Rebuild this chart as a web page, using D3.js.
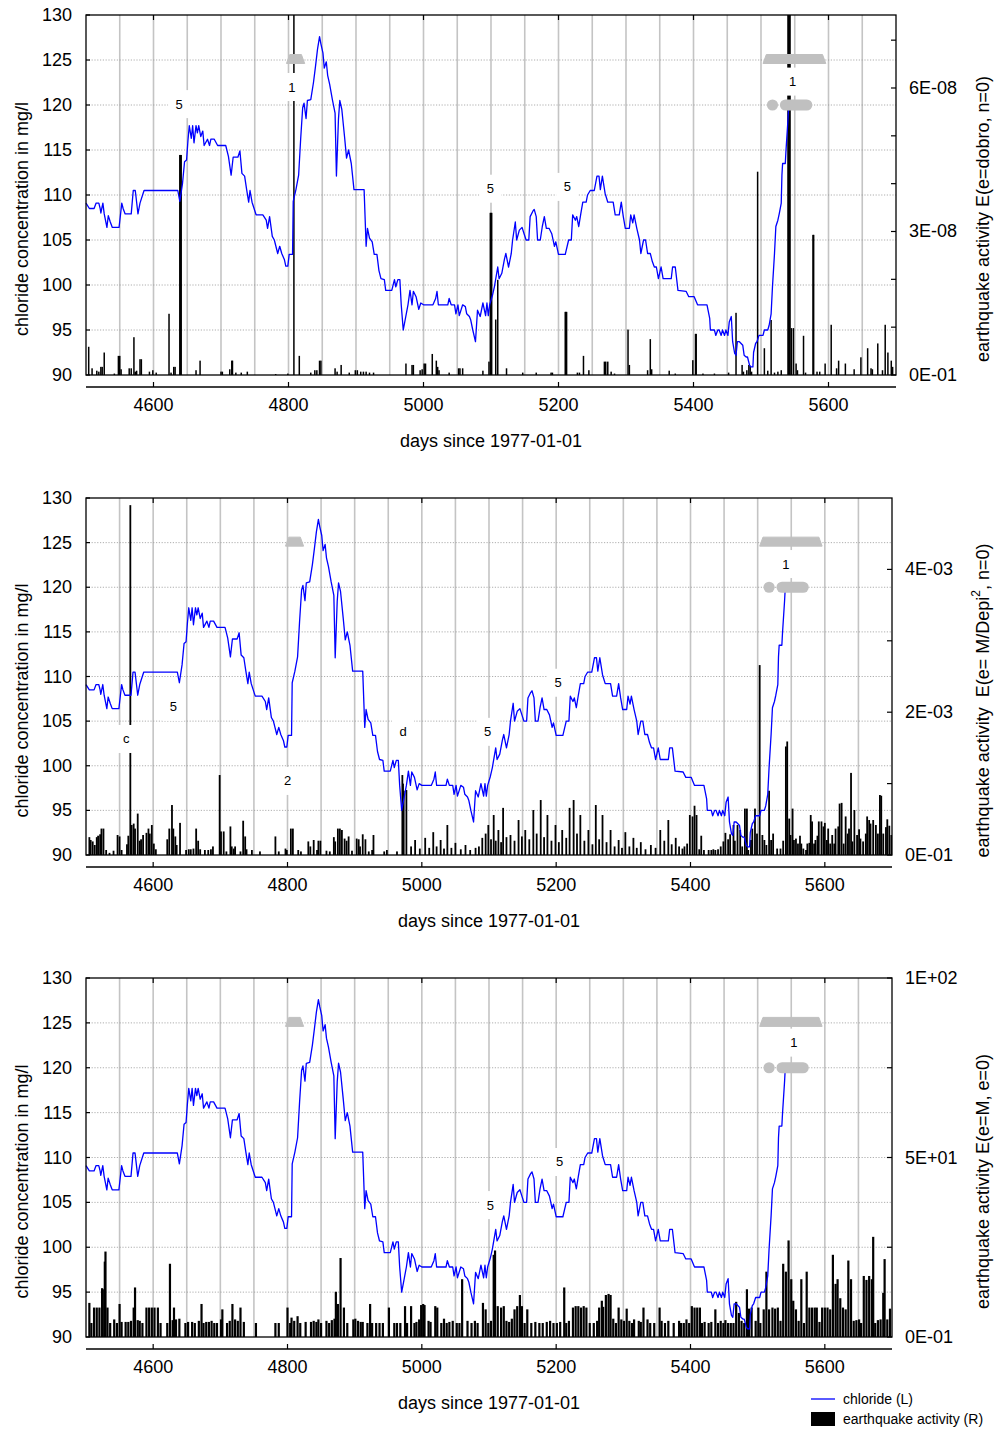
<!DOCTYPE html>
<html>
<head>
<meta charset="utf-8">
<script src="https://cdn.jsdelivr.net/npm/d3@7"></script>
<style>
  body { margin: 0; background: #fff; }
  text { font-family: "Liberation Sans", Arial, Helvetica, sans-serif; fill: #000; }
</style>
</head>
<body>
<svg id="chart" width="1005" height="1430"></svg>
<script>
// ---- chloride concentration (mg/l), days since 1977-01-01 ----
const chlorideDays = [
  4500,4505,4512,4515,4519,4521,4522,4525,4527,4531,4533,4536,4539,4549,4553,4555,4558,4567,4570,4573,
  4577,4580,4586,4636,4639,4643,4646,4649,4651,4653,4656,4658,4660,4663,4665,4667,4670,4673,4675,4680,
  4683,4685,4690,4695,4707,4711,4715,4718,4725,4728,4731,4735,4738,4741,4743,4746,4752,4762,4767,4769,
  4772,4776,4779,4784,4787,4790,4794,4796,4799,4801,4806,4807,4811,4815,4818,4821,4823,4826,4828,4833,
  4837,4840,4843,4846,4848,4851,4853,4856,4858,4861,4865,4869,4871,4874,4876,4879,4883,4886,4889,4893,
  4897,4912,4915,4917,4920,4924,4927,4931,4934,4937,4942,4944,4953,4957,4959,4962,4965,4967,4970,4974,
  4977,4980,4983,4985,4989,4993,4996,5000,5014,5018,5020,5022,5036,5038,5041,5046,5048,5051,5053,5058,
  5062,5064,5068,5070,5073,5077,5080,5084,5088,5092,5094,5096,5098,5102,5105,5110,5112,5116,5120,5122,
  5126,5130,5132,5136,5138,5142,5146,5149,5152,5156,5158,5162,5164,5167,5169,5173,5176,5179,5182,5186,
  5190,5194,5196,5200,5210,5215,5219,5221,5225,5227,5230,5233,5236,5241,5243,5247,5253,5257,5260,5262,
  5265,5269,5273,5281,5284,5290,5293,5296,5299,5305,5307,5310,5312,5316,5320,5322,5326,5329,5332,5336,
  5339,5342,5345,5348,5352,5355,5367,5369,5373,5377,5389,5393,5401,5406,5420,5424,5425,5431,5433,5436,
  5438,5441,5443,5446,5448,5451,5453,5456,5458,5461,5463,5465,5468,5473,5475,5478,5480,5483,5485,5488,
  5489,5492,5494,5497,5503,5505,5510,5512,5515,5517,5520,5522,5525,5527,5530,5531,5532,5536,5537,5540,
  5541
];
const chlorideValues = [
  109.1,108.5,108.5,109.1,109.1,108.5,108.0,109.1,107.9,106.4,107.7,107.0,106.4,106.4,109.1,108.5,107.9,107.9,110.5,110.5,
  107.9,109.1,110.5,110.5,109.3,111.3,113.7,113.9,116.0,117.7,116.3,117.7,115.8,117.7,116.9,117.7,116.5,117.1,115.5,116.2,
  115.5,116.2,116.2,115.5,115.5,114.3,112.2,114.2,114.2,114.9,112.4,112.1,110.6,109.2,110.5,109.2,107.8,107.8,107.2,106.3,
  107.6,105.4,105.0,103.5,104.3,103.5,102.8,102.1,102.1,103.4,103.4,109.3,110.6,112.2,116.2,119.7,120.2,118.5,120.5,120.6,
  122.5,124.3,126.2,127.6,126.8,125.8,124.1,124.8,123.3,122.3,120.6,119.1,112.1,118.4,120.5,119.5,116.5,114.1,115.0,113.5,
  110.6,110.6,104.3,106.3,105.2,104.8,103.4,103.4,101.6,100.7,100.6,99.4,99.4,100.6,99.8,100.6,100.6,97.8,95.0,96.6,
  97.8,99.4,97.8,99.3,98.7,97.3,98.0,97.8,97.8,98.5,99.3,97.8,97.8,98.5,97.8,97.8,96.8,97.8,96.6,97.8,
  97.6,96.8,96.5,96.1,95.0,93.7,97.2,96.5,98.0,96.6,98.0,96.6,97.8,98.8,99.8,102.0,100.7,101.3,102.9,103.5,
  102.0,103.5,105.0,107.0,105.0,106.1,106.4,105.7,105.0,105.0,107.6,108.2,108.4,107.6,105.0,105.0,106.5,107.6,106.3,106.3,
  105.7,104.3,104.8,103.4,103.4,105.0,105.0,107.8,107.2,107.6,106.5,107.9,109.2,109.2,110.0,110.5,110.5,112.1,112.1,110.6,
  112.1,110.2,109.2,109.2,107.8,107.8,109.2,107.6,106.3,106.3,107.8,106.9,107.8,106.3,105.0,103.5,105.0,105.0,103.5,103.5,
  102.6,102.0,102.0,100.7,102.0,100.7,100.7,102.0,102.0,99.4,99.3,98.7,98.7,97.8,97.8,96.3,95.0,95.0,94.4,95.0,
  95.0,94.4,95.0,94.4,95.0,94.4,95.9,96.5,93.7,92.4,92.2,93.7,93.7,93.3,92.2,92.0,92.0,91.1,90.9,90.9,
  92.5,93.5,93.7,94.4,94.4,95.0,95.0,95.5,96.8,99.8,103.5,106.5,107.2,107.9,109.1,112.2,113.5,113.5,114.9,118.4,
  119.8
];

// ---- earthquake activity E(e=dobro, n=0), values in units of 1E-08 ----
const dobroDays = [
  4504,4509,4516,4519,4522,4524,4527,4542,4548,4550,4552,4564,4567,4571,4573,4575,4580,4582,4594,4599,
  4604,4623,4626,4630,4632,4639,4640,4641,4663,4669,4700,4702,4713,4716,4717,4722,4730,4739,4781,4799,
  4808,4816,4833,4839,4842,4846,4848,4869,4872,4878,4890,4899,4902,4907,4911,4915,4920,4926,4974,4983,
  4985,4995,4998,5001,5003,5013,5019,5021,5023,5038,5052,5054,5058,5088,5097,5099,5100,5101,5107,5110,
  5123,5147,5167,5189,5191,5210,5211,5212,5228,5231,5237,5245,5268,5270,5273,5278,5283,5303,5305,5332,
  5336,5338,5364,5373,5399,5403,5404,5414,5431,5452,5463,5472,5474,5479,5482,5484,5486,5495,5505,5510,
  5515,5520,5525,5530,5540,5541,5542,5543,5545,5548,5552,5554,5563,5566,5577,5578,5583,5587,5595,5604,
  5612,5615,5625,5638,5648,5658,5663,5665,5673,5680,5684,5688,5693,5695
];
const dobroValues = [
  0.59,0.14,0.09,0.07,0.17,0.17,0.47,0.03,0.40,0.40,0.12,0.14,0.14,0.79,0.07,0.09,0.33,0.33,0.07,0.10,
  0.05,1.28,0.05,0.17,0.17,4.60,4.60,4.60,0.10,0.30,0.07,0.07,0.12,0.30,0.30,0.05,0.05,0.07,0.02,0.03,
  9.00,0.40,0.05,0.10,0.10,0.30,0.30,0.14,0.07,0.21,0.05,0.10,0.10,0.07,0.07,0.07,0.05,0.05,0.24,0.21,
  0.21,0.10,0.12,0.24,0.24,0.44,0.30,0.17,0.10,0.05,0.14,0.14,0.14,0.09,0.28,3.39,3.39,3.39,1.16,1.99,
  0.14,0.05,0.05,0.05,0.05,1.32,1.32,1.32,0.05,0.05,0.40,0.10,0.28,0.28,0.28,0.07,0.03,0.95,0.21,0.10,
  0.75,0.12,0.09,0.03,0.31,0.86,0.86,0.03,0.03,0.05,1.30,0.21,0.07,0.10,0.21,0.19,0.07,4.25,0.56,0.09,
  1.15,0.05,0.07,0.10,9.00,9.00,9.00,9.00,0.98,0.98,0.24,0.10,0.82,0.05,2.93,2.93,0.07,0.07,0.24,1.05,
  0.14,0.30,0.24,0.12,0.37,0.56,0.14,0.12,0.66,0.10,1.05,0.47,0.30,0.17
];

// ---- earthquake activity E(e=M/Depi^2, n=0), values in units of 1E-03 ----
const depiDays = [
  4505,4507,4510,4513,4516,4518,4521,4523,4526,4530,4535,4541,4547,4550,4553,4561,4563,4566,4568,4571,
  4573,4577,4580,4582,4585,4590,4593,4595,4598,4601,4604,4621,4624,4628,4630,4633,4635,4640,4649,4653,
  4656,4660,4664,4667,4670,4677,4682,4686,4689,4699,4701,4705,4709,4715,4717,4720,4722,4730,4734,4737,
  4739,4747,4759,4782,4787,4797,4799,4805,4808,4816,4820,4831,4834,4839,4844,4846,4849,4858,4863,4869,
  4871,4875,4878,4881,4885,4888,4891,4896,4903,4906,4908,4912,4916,4921,4926,4928,4944,4948,4963,4971,
  4972,4973,4977,4984,4990,4997,5005,5011,5017,5022,5028,5033,5038,5044,5050,5058,5065,5072,5080,5085,
  5090,5095,5099,5103,5107,5110,5114,5118,5121,5126,5132,5138,5144,5149,5154,5160,5166,5171,5177,5182,
  5187,5193,5199,5204,5209,5215,5220,5226,5231,5236,5242,5248,5254,5259,5264,5269,5275,5281,5287,5293,
  5298,5303,5309,5315,5320,5326,5333,5341,5348,5355,5361,5367,5372,5378,5383,5388,
  5391,5395,5399,5403,5406,5409,5413,5416,5420,5427,5431,5434,5437,5441,5445,5449,5452,5456,5459,5464,
  5466,5470,5474,5477,5481,5484,5486,5490,5492,5496,5499,5503,5507,5510,5513,5517,5520,5523,5529,5534,
  5538,5542,5544,5547,5549,5552,5554,5557,5560,5563,5565,5568,5572,5574,5577,5579,5581,5584,5586,5589,
  5591,5595,5598,5600,5603,5605,5608,5611,5614,5616,5620,5622,5625,5628,5631,5634,5636,5639,5641,5644,
  5648,5651,5653,5657,5661,5663,5666,5668,5672,5676,5679,5682,5684,5687,5691,5693,5696,5699
];
const depiValues = [
  0.25,0.21,0.19,0.14,0.25,0.27,0.29,0.37,0.37,0.07,0.03,0.06,0.28,0.26,0.07,0.15,0.27,4.90,0.42,0.44,
  0.37,0.58,0.20,0.22,0.28,0.31,0.37,0.30,0.42,0.16,0.08,0.22,0.37,0.70,0.37,0.26,0.14,0.45,0.07,0.08,
  0.08,0.09,0.37,0.20,0.08,0.07,0.07,0.08,0.12,1.12,0.33,0.33,0.05,0.40,0.12,0.09,0.12,0.05,0.48,0.26,
  0.08,0.07,0.05,0.26,0.05,0.09,0.07,0.37,0.37,0.07,0.05,0.19,0.12,0.21,0.07,0.20,0.20,0.06,0.05,0.25,
  0.19,0.37,0.37,0.35,0.23,0.20,0.26,0.06,0.23,0.22,0.12,0.29,0.22,0.05,0.07,0.28,0.05,0.07,0.05,1.12,
  1.00,0.90,0.91,0.12,0.21,0.09,0.24,0.10,0.32,0.12,0.21,0.09,0.42,0.10,0.17,0.08,0.14,0.07,0.10,0.12,
  0.24,0.30,0.42,0.22,0.56,0.20,0.35,0.18,0.66,0.25,0.28,0.20,0.49,0.26,0.35,0.22,0.63,0.30,0.77,0.25,
  0.56,0.20,0.42,0.18,0.35,0.24,0.66,0.77,0.30,0.56,0.20,0.35,0.15,0.70,0.22,0.56,0.18,0.35,0.12,0.21,
  0.10,0.32,0.12,0.24,0.10,0.18,0.08,0.14,0.10,0.35,0.20,0.49,0.15,0.24,0.12,0.09,
  0.12,0.16,0.56,0.54,0.69,0.56,0.08,0.27,0.07,0.07,0.07,0.08,0.07,0.08,0.12,0.19,0.31,0.22,0.29,0.42,
  0.20,0.42,0.35,0.12,0.65,0.65,0.07,0.21,0.37,0.65,0.30,2.66,0.28,0.21,0.14,0.90,0.21,0.30,0.09,0.09,
  0.20,1.52,1.59,0.51,0.28,0.65,0.21,0.23,0.16,0.27,0.16,0.09,0.07,0.16,0.17,0.56,0.47,0.16,0.21,0.27,
  0.47,0.47,0.40,0.45,0.21,0.37,0.16,0.28,0.16,0.37,0.40,0.72,0.73,0.16,0.54,0.30,0.37,1.15,0.19,0.63,
  0.28,0.36,0.23,0.19,0.30,0.54,0.49,0.44,0.49,0.42,0.30,0.84,0.83,0.30,0.39,0.50,0.41,0.28
];

// ---- earthquake activity E(e=M, n=0) ----
const magDays = [
  4505,4508,4512,4516,4520,4524,4525,4528,4529,4532,4536,4542,4546,4550,4553,4559,4563,4567,4571,4573,
  4577,4580,4584,4590,4594,4598,4602,4607,4611,4621,4625,4629,4631,4634,4639,4648,4652,4658,4662,4668,
  4672,4675,4679,4683,4687,4691,4695,4701,4703,4710,4714,4718,4722,4726,4730,4735,4753,4782,4787,4800,
  4804,4806,4810,4815,4819,4827,4835,4839,4843,4846,4850,4858,4862,4866,4870,4872,4875,4879,4884,4889,
  4898,4901,4905,4909,4912,4919,4923,4926,4932,4937,4942,4951,4959,4963,4968,4975,4978,4984,4989,4992,
  4996,4999,5002,5004,5010,5013,5020,5023,5029,5033,5037,5041,5046,5052,5056,5060,5068,5074,5079,5083,
  5091,5095,5099,5103,5107,5109,5113,5118,5122,5126,5130,5134,5138,5142,5146,5149,5153,5157,5163,5169,
  5175,5180,5186,5191,5196,5201,5206,5212,5215,5219,5225,5229,5233,5237,5241,5245,5250,5256,5261,5264,
  5268,5270,5274,5278,5281,5285,5289,5293,5297,5301,5305,5309,5313,5316,5323,5326,5330,5336,5340,5346,
  5354,5357,5362,5367,5375,5383,5386,5390,5394,5398,5402,5406,5410,5414,5417,5421,5427,5431,5437,5441,
  5445,5449,5452,5456,5460,5464,5468,5472,5476,5480,5484,5487,5491,5497,5501,5504,5509,5513,5517,5522,
  5526,5530,5534,5538,5542,5546,5550,5553,5557,5561,5565,5569,5573,5577,5581,5585,5588,5592,5596,5600,
  5604,5608,5612,5616,5619,5623,5627,5631,5635,5639,5643,5647,5651,5654,5658,5662,5666,5670,5672,5675,
  5679,5683,5687,5689,5693,5697
];
const magValues = [
  9.5,3.9,8.2,8.2,8.2,13.6,13.3,21.0,23.8,8.2,3.9,4.9,3.9,9.2,4.2,4.2,4.2,4.5,8.2,13.8,
  4.7,4.5,3.9,8.2,8.2,8.2,8.2,8.2,3.9,3.9,20.4,4.7,8.2,4.9,5.1,3.9,4.2,4.2,3.9,4.5,
  9.2,3.9,4.2,4.2,4.5,3.9,3.9,4.9,7.7,3.9,4.5,9.2,4.9,4.5,8.2,4.2,3.9,3.9,3.9,8.2,
  3.9,5.4,4.5,5.8,3.9,4.2,4.2,4.5,4.2,4.9,3.9,4.5,3.9,4.7,5.1,12.6,9.2,22.0,8.2,3.9,
  4.9,5.1,4.5,4.2,4.2,3.9,9.2,3.9,3.9,3.9,3.9,8.2,3.9,3.9,3.9,8.6,3.9,8.6,3.9,4.2,
  4.9,8.9,9.2,8.9,4.5,4.2,8.6,8.2,3.9,5.1,3.9,4.2,4.5,3.9,3.9,16.1,4.5,3.9,4.5,3.9,
  9.5,7.7,3.9,4.5,22.9,24.1,8.6,8.2,8.6,4.5,4.2,5.1,7.7,8.6,11.7,8.6,3.9,7.7,3.9,4.2,
  3.9,3.9,4.2,4.5,3.9,3.9,4.2,13.8,3.9,4.5,8.2,8.6,8.6,8.2,8.6,8.2,3.9,3.9,4.5,8.2,
  10.1,8.4,11.7,12.0,11.7,5.1,3.9,8.2,4.9,4.5,7.9,4.5,3.9,4.9,4.5,4.2,8.2,4.9,3.9,3.9,
  8.2,4.5,3.9,4.5,3.9,4.5,3.9,3.9,4.9,3.9,8.6,8.2,8.2,8.2,3.9,4.2,3.9,4.2,7.7,3.9,
  4.5,3.9,4.7,3.9,3.9,3.9,9.8,6.7,4.5,3.9,13.3,7.9,8.2,4.5,8.2,3.9,7.7,18.2,7.7,8.2,
  7.9,8.2,4.5,20.4,18.2,26.9,16.1,10.1,7.7,4.5,16.1,3.9,18.2,8.2,8.2,8.2,8.2,4.2,8.2,8.2,
  8.2,7.7,22.9,14.8,16.1,10.8,8.2,7.7,21.3,16.1,4.5,4.7,4.9,3.9,17.0,15.9,17.0,16.1,27.9,3.9,
  4.7,4.9,12.3,21.7,4.9,7.9
];

// ---- axes ----
const dayTicks = [4600, 4800, 5000, 5200, 5400, 5600];
const chlorideTicks = [90, 95, 100, 105, 110, 115, 120, 125, 130];

// ---- event annotations: label, day, chloride level ----
const notesTop = [
  ["5", 4638, 120.1], ["1", 4805, 122.0], ["5", 5099, 110.7], ["5", 5213, 110.9], ["1", 5547, 122.6]
];
const notesMiddle = [
  ["c", 4560, 103.0], ["5", 4630, 106.6], ["2", 4800, 98.3], ["d", 4972, 103.8],
  ["5", 5098, 103.8], ["5", 5203, 109.3], ["1", 5542, 122.6]
];
const notesBottom = [
  ["5", 5205, 109.5], ["5", 5102, 104.7], ["1", 5554, 122.8]
];

// ---- grey period markers (day ranges at chloride level) ----
const trapezoids = [[4797, 4824, 125], [5503, 5596, 125]];
const dots = [[5517, 120]];
const pills = [[5528, 5576, 120]];

const svg = d3.select("#chart");

const panels = [
  {
    top: 15, bottom: 375, left: 86, right: 896, barWidth: 1.5,
    days: dobroDays, values: dobroValues.map(v => v * 1e-8),
    rMax: 7.526e-8,
    rTicks: [0, 1e-8, 2e-8, 3e-8, 4e-8, 5e-8, 6e-8, 7e-8],
    rLabels: [[0, "0E-01"], [3e-8, "3E-08"], [6e-8, "6E-08"]],
    rTitle: [{ t: "earthquake activity E(e=dobro, n=0)" }],
    notes: notesTop
  },
  {
    top: 498, bottom: 855, left: 86, right: 892, barWidth: 1.8,
    days: depiDays, values: depiValues.map(v => v * 1e-3),
    rMax: 5e-3,
    rTicks: [0, 1e-3, 2e-3, 3e-3, 4e-3],
    rLabels: [[0, "0E-01"], [2e-3, "2E-03"], [4e-3, "4E-03"]],
    rTitle: [{ t: "earthquake activity  E(e= M/Depi" }, { t: "2", sup: true }, { t: ", n=0)" }],
    notes: notesMiddle
  },
  {
    top: 978, bottom: 1337, left: 86, right: 892, barWidth: 2.2,
    days: magDays, values: magValues,
    rMax: 100,
    rTicks: [0, 25, 50, 75, 100],
    rLabels: [[0, "0E-01"], [50, "5E+01"], [100, "1E+02"]],
    rTitle: [{ t: "earthquake activity E(e=M, e=0)" }],
    notes: notesBottom
  }
];

panels.forEach((p, i) => {
  const g = svg.append("g");
  const x = d3.scaleLinear().domain([4500, 5700]).range([p.left, p.right]);
  const y = d3.scaleLinear().domain([90, 130]).range([p.bottom, p.top]);
  const yr = d3.scaleLinear().domain([0, p.rMax]).range([p.bottom, p.top]);

  const clipId = "clip" + i;
  g.append("clipPath").attr("id", clipId).append("rect")
    .attr("x", p.left).attr("y", p.top)
    .attr("width", p.right - p.left).attr("height", p.bottom - p.top);

  // vertical grid every 50 days
  g.append("g").selectAll("line").data(d3.range(4550, 5700, 50)).join("line")
    .attr("x1", d => x(d)).attr("x2", d => x(d))
    .attr("y1", p.top).attr("y2", p.bottom)
    .attr("stroke", "#c4c4c4").attr("stroke-width", 1.6);

  // horizontal dotted grid
  g.append("g").selectAll("line").data(chlorideTicks.slice(1, -1)).join("line")
    .attr("x1", p.left).attr("x2", p.right)
    .attr("y1", d => y(d)).attr("y2", d => y(d))
    .attr("stroke", "#9a9a9a").attr("stroke-width", 0.8)
    .attr("stroke-dasharray", "1.2,1.6");

  // earthquake activity bars
  const bw = p.barWidth;
  g.append("g").attr("clip-path", `url(#${clipId})`)
    .selectAll("rect").data(p.days.map((d, k) => [d, p.values[k]])).join("rect")
    .attr("x", d => x(d[0]) - bw / 2)
    .attr("width", bw)
    .attr("y", d => yr(d[1]))
    .attr("height", d => p.bottom - yr(d[1]))
    .attr("fill", "#000");

  // chloride line
  const line = d3.line().x(d => x(d[0])).y(d => y(d[1]));
  g.append("path")
    .datum(chlorideDays.map((d, k) => [d, chlorideValues[k]]))
    .attr("d", line)
    .attr("fill", "none").attr("stroke", "#0000ff").attr("stroke-width", 1.3)
    .attr("stroke-linejoin", "round");

  // grey period markers
  const mk = g.append("g").attr("fill", "#c0c0c0");
  trapezoids.forEach(([a, b, lv]) => {
    const x0 = x(a), x1 = x(b), yc = y(lv);
    mk.append("path")
      .attr("d", `M${x0},${yc + 3.5} L${x0 + 3.3},${yc - 5.5} L${x1 - 3.3},${yc - 5.5} L${x1},${yc + 3.5} Z`)
      .attr("stroke", "#c0c0c0").attr("stroke-width", 1).attr("stroke-linejoin", "round");
  });
  dots.forEach(([a, lv]) => {
    mk.append("circle").attr("cx", x(a)).attr("cy", y(lv)).attr("r", 5.6);
  });
  pills.forEach(([a, b, lv]) => {
    mk.append("rect").attr("x", x(a)).attr("y", y(lv) - 5.5)
      .attr("width", x(b) - x(a)).attr("height", 11).attr("rx", 5.5);
  });

  // event labels on white boxes
  const nt = g.append("g");
  p.notes.forEach(([t, d, lv]) => {
    nt.append("rect").attr("x", x(d) - 11).attr("y", y(lv) - 14)
      .attr("width", 22).attr("height", 28).attr("fill", "#fff");
    nt.append("text").attr("x", x(d)).attr("y", y(lv))
      .attr("text-anchor", "middle").attr("dominant-baseline", "central")
      .attr("font-size", 13).text(t);
  });

  // frame
  g.append("rect").attr("x", p.left).attr("y", p.top)
    .attr("width", p.right - p.left).attr("height", p.bottom - p.top)
    .attr("fill", "none").attr("stroke", "#000").attr("stroke-width", 1.3);

  // inner ticks: top (days), left (chloride), right (activity)
  const tk = g.append("g").attr("stroke", "#000").attr("stroke-width", 1.2);
  dayTicks.forEach(d => {
    tk.append("line").attr("x1", x(d)).attr("x2", x(d)).attr("y1", p.top).attr("y2", p.top + 5);
  });
  chlorideTicks.forEach(v => {
    tk.append("line").attr("x1", p.left).attr("x2", p.left + 4).attr("y1", y(v)).attr("y2", y(v));
  });
  p.rTicks.forEach(v => {
    tk.append("line").attr("x1", p.right - 5).attr("x2", p.right).attr("y1", yr(v)).attr("y2", yr(v));
  });

  // detached bottom day axis
  const ax = g.append("g").attr("transform", `translate(0,${p.bottom + 12})`);
  ax.append("line").attr("x1", p.left).attr("x2", p.right).attr("stroke", "#000").attr("stroke-width", 1.3);
  ax.selectAll(".t").data(dayTicks).join("line")
    .attr("x1", d => x(d)).attr("x2", d => x(d)).attr("y1", 0).attr("y2", -5)
    .attr("stroke", "#000").attr("stroke-width", 1.2);
  ax.selectAll("text").data(dayTicks).join("text")
    .attr("x", d => x(d)).attr("y", 18)
    .attr("text-anchor", "middle").attr("dominant-baseline", "central")
    .attr("font-size", 18).text(d => d);
  g.append("text").attr("x", (p.left + p.right) / 2).attr("y", p.bottom + 66)
    .attr("text-anchor", "middle").attr("dominant-baseline", "central")
    .attr("font-size", 18).text("days since 1977-01-01");

  // left chloride labels
  g.append("g").selectAll("text").data(chlorideTicks).join("text")
    .attr("x", 72).attr("y", d => y(d))
    .attr("text-anchor", "end").attr("dominant-baseline", "central")
    .attr("font-size", 18).text(d => d);

  // right activity labels
  g.append("g").selectAll("text").data(p.rLabels).join("text")
    .attr("x", p.right + 13).attr("y", d => yr(d[0]))
    .attr("dominant-baseline", "central")
    .attr("font-size", 18).text(d => d[1]);

  // axis titles
  const midY = (p.top + p.bottom) / 2 + 24;
  g.append("text")
    .attr("transform", `translate(22,${midY}) rotate(-90)`)
    .attr("text-anchor", "middle").attr("dominant-baseline", "central")
    .attr("font-size", 18).text("chloride concentration in mg/l");
  const rt = g.append("text")
    .attr("transform", `translate(983,${midY}) rotate(-90)`)
    .attr("text-anchor", "middle").attr("dominant-baseline", "central")
    .attr("font-size", 18).style("white-space", "pre");
  p.rTitle.forEach(s => {
    const ts = rt.append("tspan").text(s.t);
    if (s.sup) ts.attr("font-size", 12).attr("baseline-shift", "super");
  });
});

// legend
const lg = svg.append("g").attr("transform", "translate(811,1399)");
lg.append("line").attr("x1", 0).attr("x2", 24).attr("y1", 0).attr("y2", 0)
  .attr("stroke", "#0000ff").attr("stroke-width", 1.3);
lg.append("text").attr("x", 32).attr("y", 0).attr("dominant-baseline", "central")
  .attr("font-size", 14).text("chloride (L)");
lg.append("rect").attr("x", 0).attr("y", 13).attr("width", 24).attr("height", 14).attr("fill", "#000");
lg.append("text").attr("x", 32).attr("y", 20).attr("dominant-baseline", "central")
  .attr("font-size", 14).text("earthquake activity (R)");
</script>
</body>
</html>
